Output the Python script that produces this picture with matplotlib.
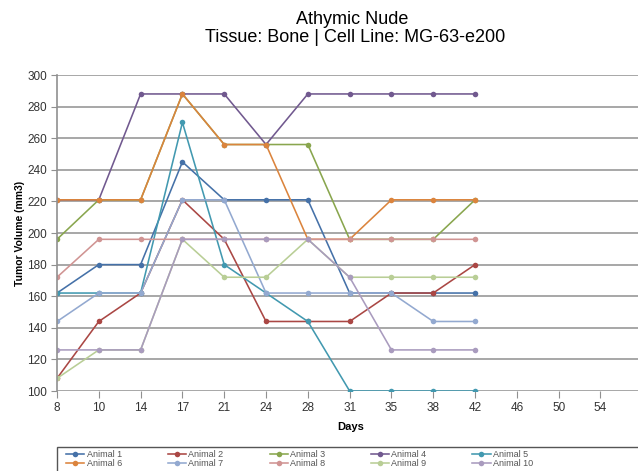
import matplotlib.pyplot as plt
from matplotlib.patches import Rectangle

plt.rcParams['font.family'] = ['Liberation Sans', 'DejaVu Sans']

# Data
days = ['8', '10', '14', '17', '21', '24', '28', '31', '35', '38', '42', '46', '50', '54']
n_obs = 11

animal_1 = [162, 180, 180, 245, 221, 221, 221, 162, 162, 162, 162]
animal_2 = [108, 144, 162, 221, 196, 144, 144, 144, 162, 162, 180]
animal_3 = [196, 221, 221, 288, 256, 256, 256, 196, 196, 196, 221]
animal_4 = [221, 221, 288, 288, 288, 256, 288, 288, 288, 288, 288]
animal_5 = [162, 162, 162, 270, 180, 162, 144, 100, 100, 100, 100]
animal_6 = [221, 221, 221, 288, 256, 256, 196, 196, 221, 221, 221]
animal_7 = [144, 162, 162, 221, 221, 162, 162, 162, 162, 144, 144]
animal_8 = [172, 196, 196, 196, 196, 196, 196, 196, 196, 196, 196]
animal_9 = [108, 126, 126, 196, 172, 172, 196, 172, 172, 172, 172]
animal_10 = [126, 126, 126, 196, 196, 196, 196, 172, 126, 126, 126]

series = [animal_1, animal_2, animal_3, animal_4, animal_5,
          animal_6, animal_7, animal_8, animal_9, animal_10]
labels = ['Animal %d' % (i + 1) for i in range(10)]
colors = ['#4571A8', '#AA4744', '#89A64E', '#71598F', '#4299B0',
          '#DB843D', '#93A9D0', '#D09493', '#B9CE96', '#A99BBE']

W, H = 638, 471
fig = plt.figure(figsize=(W / 100, H / 100), dpi=100)
ax = fig.add_axes([57 / W, 1 - 391 / H, (W - 57) / W + 0.01, (391 - 75) / H])

x = list(range(n_obs))
handles = []
for vals, lab, c in zip(series, labels, colors):
    h, = ax.plot(x, vals, color=c, lw=1.15, marker='o', markersize=4,
                 markeredgewidth=0, label=lab)
    handles.append(h)

ax.set_ylim(100, 300)
ax.set_yticks(range(100, 301, 20))
ax.set_xlim(0, 14.05)
ax.set_xticks(range(len(days)))
ax.set_xticklabels(days)
ax.yaxis.grid(True, color='#a0a0a0', lw=1.3)
ax.set_axisbelow(True)
for s in ['top', 'right', 'bottom']:
    ax.spines[s].set_visible(False)
ax.spines['left'].set_color('#909090')
ax.spines['left'].set_linewidth(1.2)
ax.tick_params(axis='both', colors='#909090', labelcolor='#333333',
               labelsize=8.5, direction='out')
ax.tick_params(axis='y', length=4, pad=3)
ax.tick_params(axis='x', length=5, pad=3)

ax.set_ylabel('Tumor Volume (mm3)', fontsize=7.5, fontweight='bold', labelpad=2)
ax.set_xlabel('Days', fontsize=8, fontweight='bold', labelpad=6)

fig.text(352 / W, 1 - 19 / H, 'Athymic Nude', ha='center', va='center', fontsize=13)
fig.text(355 / W, 1 - 38 / H, 'Tissue: Bone | Cell Line: MG-63-e200',
         ha='center', va='center', fontsize=13)

# legend (row-wise order)
order = [0, 5, 1, 6, 2, 7, 3, 8, 4, 9]
leg = fig.legend([handles[i] for i in order], [labels[i] for i in order],
                 ncol=5, loc='upper left', bbox_to_anchor=(61 / W, 1 - 445 / H),
                 frameon=False, fontsize=6.5, handlelength=2.0, handletextpad=0.25,
                 columnspacing=5.1, labelspacing=0.0, borderpad=0.1)
for t in leg.get_texts():
    t.set_color('#555555')
fig.patches.append(Rectangle((57 / W, -0.05), 0.99, 0.05 + 1 - 447 / H,
                             transform=fig.transFigure, fill=False,
                             edgecolor='#555555', lw=1.0))

fig.savefig('out.png', dpi=100)
